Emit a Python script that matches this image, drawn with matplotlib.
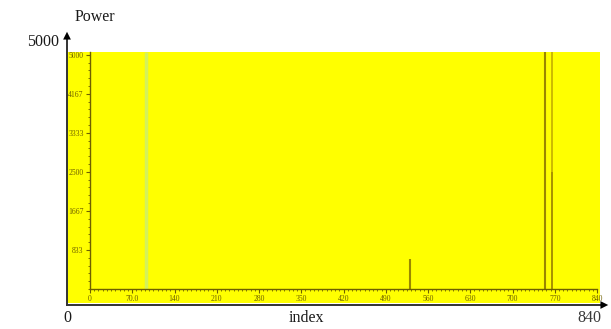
import matplotlib
matplotlib.use("Agg")
import matplotlib.pyplot as plt
from matplotlib.patches import Rectangle, FancyArrowPatch
from matplotlib.ticker import MultipleLocator

# ---- data ----
spike_index = [754, 531]
spike_power = [5100, 650]
spike_colors = ["#9a8600", "#9a8800"]
second_index = [766]
second_power = [2500]
cursor_index = [93, 766]
x_ticks = [0, 70, 140, 210, 280, 350, 420, 490, 560, 630, 700, 770, 840]
x_tick_labels = ["0", "70.0", "140", "210", "280", "350", "420", "490", "560", "630", "700", "770", "840"]
y_ticks = [833, 1667, 2500, 3333, 4167, 5000]
y_tick_labels = ["833", "1667", "2500", "3333", "4167", "5000"]
outer_x_labels = ["0", "index", "840"]
outer_y_label = "Power"
outer_y_max = "5000"

W, H = 611, 329
fig = plt.figure(figsize=(W / 100, H / 100), dpi=100)
fig.patch.set_facecolor("white")

# background axes in pixel coordinates
bg = fig.add_axes([0, 0, 1, 1])
bg.set_xlim(0, W)
bg.set_ylim(H, 0)
bg.axis("off")

YEL = "#ffff00"
OLIVE = "#6e6000"
bg.add_patch(Rectangle((67, 52), 533, 251, facecolor=YEL, edgecolor="none", zorder=0))
# outer axes arrows
bg.plot([67, 67], [305, 40], color="#333333", lw=1.4, zorder=3)
bg.plot([67, 602], [305, 305], color="#333333", lw=1.4, zorder=3)
bg.add_patch(FancyArrowPatch((67, 42), (67, 29), arrowstyle="-|>", mutation_scale=14,
                             color="black", lw=0, zorder=4))
bg.add_patch(FancyArrowPatch((600, 305), (611, 305), arrowstyle="-|>", mutation_scale=14,
                             color="black", lw=0, zorder=4))
serif = "Liberation Serif"
bg.text(95, 17, outer_y_label, fontsize=11.5, family=serif, ha="center", va="center", color="#1a1a1a")
bg.text(59, 42, outer_y_max, fontsize=11.5, family=serif, ha="right", va="center", color="#1a1a1a")
bg.text(67, 318, outer_x_labels[0], fontsize=11.5, family=serif, ha="center", va="center", color="#1a1a1a")
bg.text(306, 318, outer_x_labels[1], fontsize=11.5, family=serif, ha="center", va="center", color="#1a1a1a")
bg.text(589, 318, outer_x_labels[2], fontsize=11.5, family=serif, ha="center", va="center", color="#3a3a3a")

# inner plot axes
left, right, top, bottom = 90, 597, 52, 289
ax = fig.add_axes([left / W, 1 - bottom / H, (right - left) / W, (bottom - top) / H])
ax.set_facecolor("none")
ax.set_xlim(0, 840)
ax.set_ylim(0, 5060)
for s in ["top", "right"]:
    ax.spines[s].set_visible(False)
for s in ["left", "bottom"]:
    ax.spines[s].set_color(OLIVE)
    ax.spines[s].set_linewidth(1.0)

ax.set_xticks(x_ticks)
ax.set_xticklabels(x_tick_labels)
ax.set_yticks(y_ticks)
ax.set_yticklabels(y_tick_labels)
ax.xaxis.set_minor_locator(MultipleLocator(7))
ax.yaxis.set_minor_locator(MultipleLocator(166.7))
ax.tick_params(axis="both", which="major", length=3, width=0.8, color=OLIVE,
               labelcolor=OLIVE, labelsize=5.5, pad=1.5, direction="out")
ax.tick_params(axis="both", which="minor", length=1.5, width=0.6, color=OLIVE, direction="out")
for lbl in ax.get_xticklabels() + ax.get_yticklabels():
    lbl.set_family("Liberation Serif")
    lbl.set_stretch("condensed")

# cursor lines (faint)
ax.vlines(cursor_index[0], 0, 5060, color="#d4f25a", lw=2.5, zorder=1)
ax.vlines(cursor_index[1], 0, 5060, color="#c8b400", lw=1.3, zorder=1)
# spikes
ax.vlines(spike_index, 0, spike_power, colors=spike_colors, lw=1.5, zorder=2)
ax.vlines(second_index, 0, second_power, colors="#a89200", lw=1.4, zorder=2)

fig.savefig("out.png", dpi=100, facecolor="white")
